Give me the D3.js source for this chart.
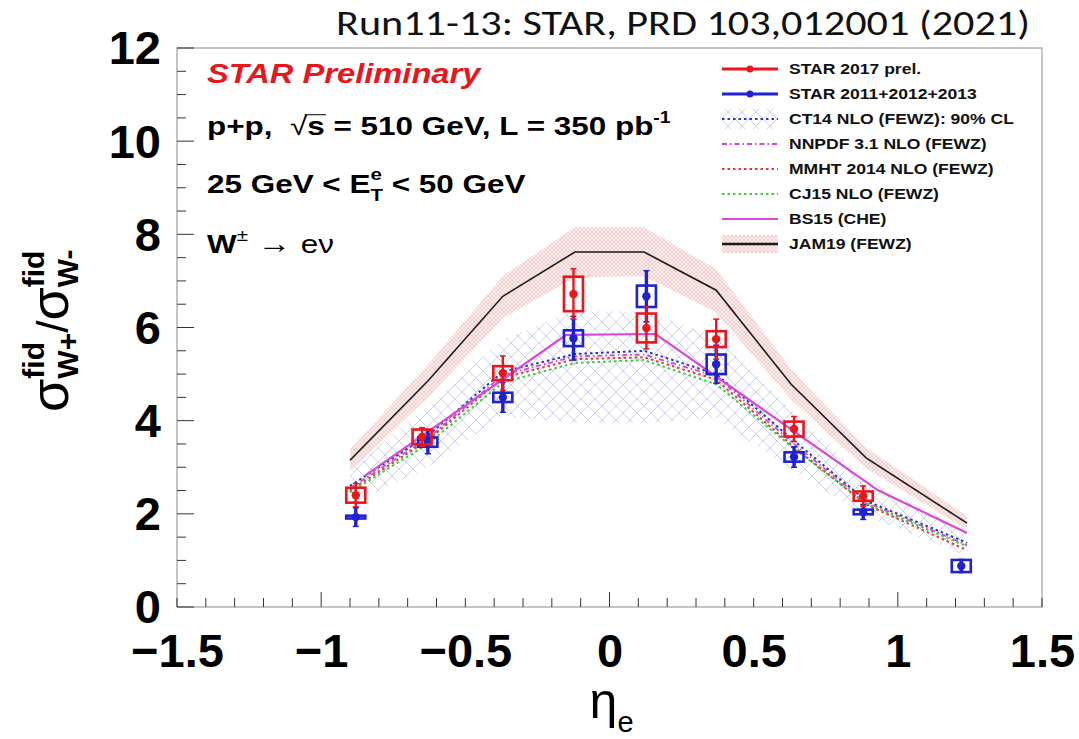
<!DOCTYPE html>
<html><head><meta charset="utf-8">
<script src="https://cdn.jsdelivr.net/npm/d3@7"></script>
<style>html,body{margin:0;padding:0;background:#fff;}svg{display:block;}</style>
</head><body>
<svg id="chart" width="1079" height="739"></svg>
<script>
// ---- STAR 2017 preliminary: W+/W- fiducial cross-section ratio vs electron pseudorapidity
const etaRed   = [-0.88, -0.65, -0.37, -0.125, 0.128, 0.37, 0.64, 0.88];
const ratioRed = [2.40, 3.65, 5.02, 6.72, 5.99, 5.75, 3.82, 2.38];
const statRed  = [0.25, 0.20, 0.37, 0.54, 0.45, 0.43, 0.27, 0.22];
const sysRed   = [0.16, 0.16, 0.15, 0.37, 0.31, 0.17, 0.16, 0.10];

// ---- STAR 2011+2012+2013
const etaBlue   = [-0.88, -0.63, -0.37, -0.125, 0.128, 0.37, 0.64, 0.88, 1.22];
const ratioBlue = [1.93, 3.54, 4.50, 5.77, 6.67, 5.21, 3.22, 2.04, 0.88];
const statBlue  = [0.20, 0.25, 0.32, 0.47, 0.55, 0.41, 0.22, 0.16, 0.14];
const sysBlue   = [0.03, 0.10, 0.10, 0.17, 0.23, 0.21, 0.10, 0.05, 0.13];

// ---- theory predictions (FEWZ) evaluated at these eta values
const etaTheory = [-0.90, -0.63, -0.37, -0.12, 0.12, 0.37, 0.63, 0.89, 1.24];
const ct14      = [2.60, 3.68, 5.05, 5.43, 5.50, 5.00, 3.62, 2.28, 1.38];
const ct14Lo    = [2.20, 3.00, 4.10, 3.95, 3.95, 4.05, 2.95, 1.95, 1.10];
const ct14Hi    = [2.95, 4.30, 5.75, 6.35, 6.35, 5.80, 4.25, 2.75, 1.65];
const nnpdf     = [2.55, 3.62, 4.98, 5.38, 5.42, 4.95, 3.55, 2.25, 1.33];
const mmht      = [2.50, 3.58, 4.92, 5.32, 5.36, 4.88, 3.48, 2.20, 1.22];
const cj15      = [2.46, 3.50, 4.82, 5.24, 5.30, 4.78, 3.45, 2.22, 1.30];
const jam19     = [3.15, 4.85, 6.67, 7.62, 7.62, 6.80, 4.78, 3.20, 1.80];
const jam19Lo   = [2.92, 4.50, 6.20, 7.08, 7.10, 6.32, 4.45, 2.98, 1.66];
const jam19Hi   = [3.38, 5.20, 7.10, 8.15, 8.15, 7.25, 5.10, 3.42, 1.95];

// ---- BS15 (CHE)
const etaBS15 = [-0.85, -0.15, 0.16, 0.93, 1.24];
const bs15    = [2.81, 5.84, 5.86, 2.51, 1.59];

// ---- axes
const xTicks = [-1.5, -1, -0.5, 0, 0.5, 1, 1.5];
const yTicks = [0, 2, 4, 6, 8, 10, 12];

const legendItems = [
  "STAR 2017 prel.", "STAR 2011+2012+2013", "CT14 NLO (FEWZ): 90% CL",
  "NNPDF 3.1 NLO (FEWZ)", "MMHT 2014 NLO (FEWZ)", "CJ15 NLO (FEWZ)",
  "BS15 (CHE)", "JAM19 (FEWZ)"
];

const RED = "#e8161d", BLUE = "#1e22d0", MAG = "#d64ad6";
const SANS = "'Liberation Sans', Arial, Helvetica, sans-serif";
const STRETCH = 1.21;   // the figure's text is drawn slightly wide

const svg = d3.select("#chart");
const x = d3.scaleLinear().domain([-1.5, 1.5]).range([177, 1042]);
const y = d3.scaleLinear().domain([0, 12]).range([607, 48]);

// ---- hatch patterns for the uncertainty bands
const defs = svg.append("defs");
const pCT = defs.append("pattern").attr("id", "hatchCT14")
  .attr("patternUnits", "userSpaceOnUse").attr("width", 14).attr("height", 14);
pCT.append("path").attr("d", "M0,0L14,14M14,0L0,14")
  .attr("stroke", "#c6cbec").attr("stroke-width", 0.9).attr("fill", "none");
const pJ = defs.append("pattern").attr("id", "hatchJAM")
  .attr("patternUnits", "userSpaceOnUse").attr("width", 4).attr("height", 4);
pJ.append("rect").attr("width", 4).attr("height", 4).attr("fill", "#fdf1f1");
pJ.append("path").attr("d", "M0,0L4,4M4,0L0,4")
  .attr("stroke", "#f1b3b3").attr("stroke-width", 0.6).attr("fill", "none");

// ---- helpers
function measure(t, size, weight, style, family) {
  const tmp = svg.append("text").attr("font-family", family || SANS).attr("font-size", size)
    .attr("font-weight", weight || "normal").attr("font-style", style || "normal")
    .style("white-space", "pre").text(t);
  const w = tmp.node().getComputedTextLength();
  tmp.remove();
  return w;
}
// lays out a line of text made of pieces; "stack" puts a piece at the same x as the previous one
function rich(g, x0, y0, parts, base) {
  let cx = x0, prevStart = x0, prevW = 0;
  parts.forEach(p => {
    const f = Object.assign({}, base, p);
    const startX = p.stack ? prevStart : cx;
    const t = g.append("text").attr("x", startX).attr("y", y0 + (p.shift || 0))
      .attr("font-family", f.family || SANS).attr("font-size", f.size)
      .attr("font-weight", f.weight || "normal").attr("font-style", f.style || "normal")
      .attr("fill", f.fill || "#000").style("white-space", "pre").text(p.t);
    const w = t.node().getComputedTextLength();
    if (p.overline) {
      g.append("line").attr("x1", startX - 2).attr("x2", startX + w + 1)
        .attr("y1", y0 - f.size * 0.78).attr("y2", y0 - f.size * 0.78)
        .attr("stroke", "#000").attr("stroke-width", 1);
    }
    cx = p.stack ? startX + Math.max(prevW, w) : startX + w;
    prevStart = startX; prevW = w;
  });
  return cx;
}
const wide = x0 => `translate(${x0},0) scale(${STRETCH},1) translate(${-x0},0)`;
const zip = (xs, ys) => xs.map((e, i) => ({ eta: e, v: ys[i] }));
const line = d3.line().x(d => x(d.eta)).y(d => y(d.v));
const band = d3.area().x(d => x(d.eta)).y0(d => y(d.lo)).y1(d => y(d.hi));

// ---- bands
svg.append("path")
  .attr("d", band(etaTheory.map((e, i) => ({ eta: e, lo: ct14Lo[i], hi: ct14Hi[i] }))))
  .attr("fill", "url(#hatchCT14)");
svg.append("path")
  .attr("d", band(etaTheory.map((e, i) => ({ eta: e, lo: jam19Lo[i], hi: jam19Hi[i] }))))
  .attr("fill", "url(#hatchJAM)");

// ---- theory curves
const curves = [
  { data: zip(etaTheory, ct14),  stroke: "#2a36b8", dash: "2.5,3", w: 2 },
  { data: zip(etaTheory, nnpdf), stroke: "#cc4acc", dash: "5,3,1.5,3", w: 1.8 },
  { data: zip(etaTheory, mmht),  stroke: "#dd3a3a", dash: "2.5,3", w: 2 },
  { data: zip(etaTheory, cj15),  stroke: "#3ccc3c", dash: "2.5,3", w: 2 },
  { data: zip(etaBS15, bs15),    stroke: MAG, dash: null, w: 2.2 },
  { data: zip(etaTheory, jam19), stroke: "#1a1a1a", dash: null, w: 1.6 }
];
curves.forEach(c => {
  svg.append("path").attr("d", line(c.data)).attr("fill", "none")
    .attr("stroke", c.stroke).attr("stroke-width", c.w)
    .attr("stroke-dasharray", c.dash);
});

// ---- data points: systematic boxes, statistical bars, markers
const boxHalf = 0.033;
function drawSeries(etas, vals, stat, sys, color, barW) {
  const g = svg.append("g");
  etas.forEach((e, i) => {
    const v = vals[i];
    g.append("rect")
      .attr("x", x(e - boxHalf)).attr("width", x(e + boxHalf) - x(e - boxHalf))
      .attr("y", y(v + sys[i])).attr("height", Math.max(2, y(v - sys[i]) - y(v + sys[i])))
      .attr("fill", "none").attr("stroke", color).attr("stroke-width", 2.6);
    g.append("line").attr("x1", x(e)).attr("x2", x(e))
      .attr("y1", y(v - stat[i])).attr("y2", y(v + stat[i]))
      .attr("stroke", color).attr("stroke-width", barW);
    [v - stat[i], v + stat[i]].forEach(t => {
      g.append("line").attr("x1", x(e) - 3).attr("x2", x(e) + 3)
        .attr("y1", y(t)).attr("y2", y(t)).attr("stroke", color).attr("stroke-width", 1.5);
    });
    g.append("circle").attr("cx", x(e)).attr("cy", y(v)).attr("r", 4.2).attr("fill", color);
  });
}
drawSeries(etaBlue, ratioBlue, statBlue, sysBlue, BLUE, 3.4);
drawSeries(etaRed, ratioRed, statRed, sysRed, RED, 2.4);

// ---- frame
svg.append("rect").attr("x", x(-1.5)).attr("y", y(12))
  .attr("width", x(1.5) - x(-1.5)).attr("height", y(0) - y(12))
  .attr("fill", "none").attr("stroke", "#8a8a8a").attr("stroke-width", 1);

// ---- ticks (pointing inward)
const xMinor = d3.range(-15, 16).map(k => k / 10);
const xAxisTicks = svg.append("g").attr("transform", `translate(0,${y(0)})`);
xMinor.forEach(t => {
  const len = Math.abs(t - Math.round(t)) < 1e-9 ? 15 : 9;
  xAxisTicks.append("line").attr("x1", x(t)).attr("x2", x(t)).attr("y1", 0).attr("y2", -len)
    .attr("stroke", "#333").attr("stroke-width", 1);
});
const yMinor = d3.range(0, 25).map(k => k / 2);
const yAxisTicks = svg.append("g").attr("transform", `translate(${x(-1.5)},0)`);
yMinor.forEach(t => {
  const len = (t % 2 === 0) ? 17 : 9;
  yAxisTicks.append("line").attr("x1", 0).attr("x2", len).attr("y1", y(t)).attr("y2", y(t))
    .attr("stroke", "#333").attr("stroke-width", 1);
});

// ---- tick labels via d3 axes
const fmt = d => (d < 0 ? "\u2212" + Math.abs(d) : String(d));
const gx = svg.append("g").attr("transform", `translate(0,${y(0)})`)
  .call(d3.axisBottom(x).tickValues(xTicks).tickSize(0).tickPadding(27).tickFormat(fmt));
gx.select(".domain").remove();
gx.selectAll("text").attr("font-family", SANS).attr("font-size", 47)
  .attr("font-weight", "bold").attr("fill", "#000");
const gy = svg.append("g").attr("transform", `translate(${x(-1.5)},0)`)
  .call(d3.axisLeft(y).tickValues(yTicks).tickSize(0).tickPadding(16).tickFormat(d3.format("d")));
gy.select(".domain").remove();
gy.selectAll("text").attr("font-family", SANS).attr("font-size", 47)
  .attr("font-weight", "bold").attr("fill", "#000").attr("dy", "0.34em");

// ---- axis titles
const xt = svg.append("g");
const etaW = measure("\u03b7", 50);
rich(xt, x(0) - etaW / 2 - 6, 718, [
  { t: "\u03b7", size: 50 },
  { t: "e", size: 29, shift: 14 }
], {});

const yt = svg.append("g").attr("transform", "translate(68,412) rotate(-90)");
rich(yt, 0, 0, [
  { t: "\u03c3", size: 54 },
  { t: "fid", size: 30, weight: "bold", shift: -24 },
  { t: "W+", size: 30, weight: "bold", shift: 10, stack: true },
  { t: "/", size: 44 },
  { t: "\u03c3", size: 54 },
  { t: "fid", size: 30, weight: "bold", shift: -24 },
  { t: "W-", size: 30, weight: "bold", shift: 10, stack: true }
], {});

// ---- annotations
const ann = svg.append("g").attr("transform", wide(207));
ann.append("text").attr("x", 207).attr("y", 83)
  .attr("font-family", SANS).attr("font-size", 27).attr("font-weight", "bold")
  .attr("font-style", "italic").attr("fill", RED).text("STAR Preliminary");
const bw = { weight: "bold", size: 26 };
rich(ann, 207, 135, [
  { t: "p+p,  " },
  { t: "\u221a", weight: "normal" },
  { t: "s", overline: true },
  { t: " = 510 GeV, L = 350 pb" },
  { t: "-1", size: 16, shift: -12 }
], bw);
rich(ann, 207, 193, [
  { t: "25 GeV < E" },
  { t: "e", size: 17, shift: -13 },
  { t: "T", size: 17, shift: 8, stack: true },
  { t: " < 50 GeV" }
], bw);
rich(ann, 207, 253, [
  { t: "W" },
  { t: "\u00b1", size: 17, shift: -12, weight: "normal" },
  { t: " \u2192 ", size: 28, weight: "normal" },
  { t: "e\u03bd", weight: "normal" }
], bw);

// ---- title
svg.append("text").attr("x", 336).attr("y", 35)
  .attr("font-family", "Carlito, Lato, 'Open Sans', sans-serif").attr("font-size", 34)
  .attr("textLength", 694).attr("lengthAdjust", "spacingAndGlyphs")
  .attr("fill", "#111").text("Run11-13: STAR, PRD 103,012001 (2021)");

// ---- legend
const lg = svg.append("g");
const rowY = d3.scalePoint().domain(legendItems).range([69, 244]);
const lx0 = 722, lx1 = 778;
const lgText = lg.append("g").attr("transform", wide(789));
legendItems.forEach(name => {
  lgText.append("text").attr("x", 789).attr("y", rowY(name) + 5).attr("font-family", SANS)
    .attr("font-size", 14.5).attr("font-weight", "bold").attr("fill", "#111").text(name);
});
const ly = i => rowY(legendItems[i]);
lg.append("rect").attr("x", lx0).attr("y", ly(2) - 10).attr("width", lx1 - lx0).attr("height", 20)
  .attr("fill", "url(#hatchCT14)");
lg.append("rect").attr("x", lx0).attr("y", ly(7) - 9).attr("width", lx1 - lx0).attr("height", 18)
  .attr("fill", "url(#hatchJAM)");
[[0, RED], [1, BLUE]].forEach(([i, c]) => {
  lg.append("line").attr("x1", lx0).attr("x2", lx1).attr("y1", ly(i)).attr("y2", ly(i))
    .attr("stroke", c).attr("stroke-width", 3);
  lg.append("circle").attr("cx", (lx0 + lx1) / 2).attr("cy", ly(i)).attr("r", 3.5).attr("fill", c);
});
const legendLines = [
  [2, "#2a36b8", "2.5,3", 2], [3, "#cc4acc", "5,3,1.5,3", 1.8], [4, "#dd3a3a", "2.5,3", 2],
  [5, "#3ccc3c", "2.5,3", 2], [6, MAG, null, 2.2], [7, "#1a1a1a", null, 2.4]
];
legendLines.forEach(([i, c, dash, w]) => {
  lg.append("line").attr("x1", lx0).attr("x2", lx1).attr("y1", ly(i)).attr("y2", ly(i))
    .attr("stroke", c).attr("stroke-width", w).attr("stroke-dasharray", dash);
});
</script>
</body></html>
